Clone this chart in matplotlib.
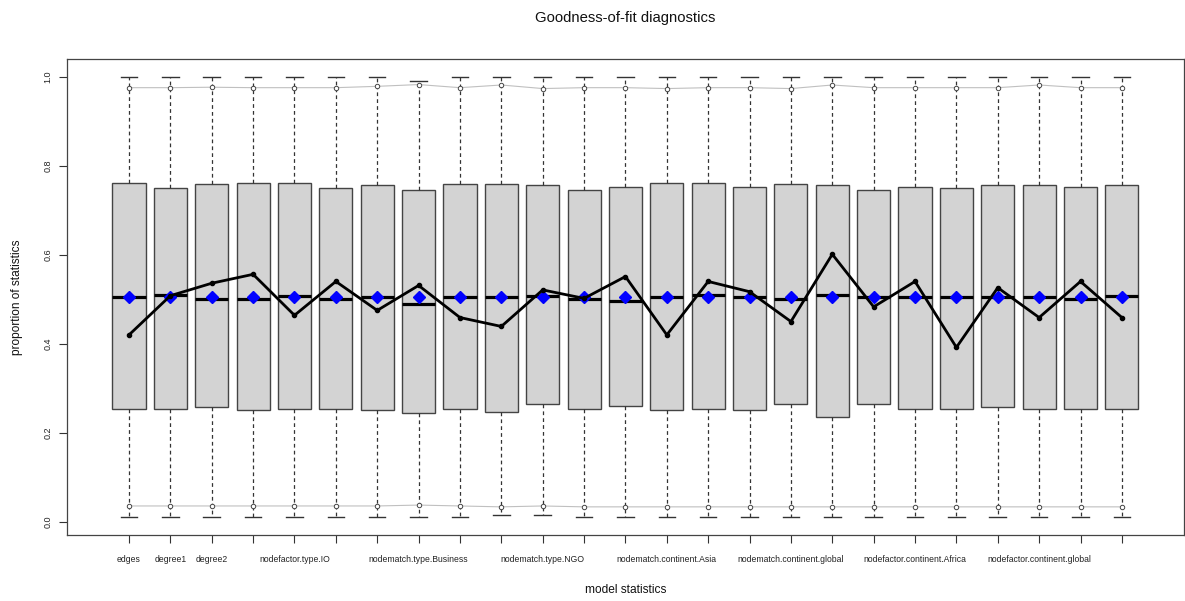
import matplotlib.pyplot as plt

plt.rcParams['font.family'] = ['Liberation Sans', 'DejaVu Sans']

# model statistics (only some labels are printed, the rest are hidden like in R)
tick_labels = ['edges', 'degree1', 'degree2', '', 'nodefactor.type.IO', '', '',
               'nodematch.type.Business', '', '', 'nodematch.type.NGO', '', '',
               'nodematch.continent.Asia', '', '', 'nodematch.continent.global', '', '',
               'nodefactor.continent.Africa', '', '', 'nodefactor.continent.global', '', '']

# boxplot summaries of simulated proportions
q1 = [0.254, 0.254, 0.259, 0.252, 0.254, 0.254, 0.252, 0.245, 0.254, 0.248,
      0.265, 0.254, 0.260, 0.252, 0.254, 0.252, 0.264, 0.235, 0.264, 0.254,
      0.254, 0.259, 0.254, 0.254, 0.254]
med = [0.505, 0.509, 0.500, 0.500, 0.508, 0.501, 0.506, 0.490, 0.505, 0.505,
       0.508, 0.500, 0.495, 0.506, 0.509, 0.506, 0.501, 0.510, 0.506, 0.505,
       0.504, 0.505, 0.504, 0.501, 0.508]
q3 = [0.762, 0.750, 0.758, 0.762, 0.762, 0.750, 0.757, 0.745, 0.758, 0.758,
      0.757, 0.745, 0.752, 0.762, 0.762, 0.752, 0.758, 0.757, 0.745, 0.752,
      0.750, 0.757, 0.757, 0.752, 0.757]
whis_lo = [0.0105, 0.0105, 0.0105, 0.0105, 0.0105, 0.0105, 0.0105, 0.0105, 0.0105, 0.015,
           0.015, 0.0105, 0.0105, 0.0105, 0.0105, 0.0105, 0.0105, 0.0105, 0.0105, 0.0105,
           0.0105, 0.0105, 0.0105, 0.0105, 0.0105]
whis_hi = [1.0, 1.0, 1.0, 1.0, 1.0, 1.0, 1.0, 0.991, 1.0, 1.0,
           1.0, 1.0, 1.0, 1.0, 1.0, 1.0, 1.0, 1.0, 1.0, 1.0,
           1.0, 1.0, 1.0, 1.0, 1.0]

# simulated means (blue diamonds)
means = [0.505, 0.505, 0.504, 0.504, 0.505, 0.504, 0.504, 0.504, 0.504, 0.504,
         0.504, 0.504, 0.504, 0.504, 0.504, 0.504, 0.504, 0.504, 0.504, 0.504,
         0.504, 0.504, 0.504, 0.504, 0.504]

# observed statistics (black line)
observed = [0.420, 0.508, 0.536, 0.556, 0.464, 0.540, 0.475, 0.531, 0.459, 0.439,
            0.521, 0.502, 0.551, 0.420, 0.540, 0.517, 0.450, 0.601, 0.483, 0.540,
            0.392, 0.526, 0.459, 0.540, 0.459]

# upper / lower bounds (grey lines)
upper = [0.975, 0.975, 0.976, 0.975, 0.975, 0.975, 0.978, 0.982, 0.975, 0.981,
         0.973, 0.975, 0.975, 0.973, 0.975, 0.975, 0.973, 0.981, 0.975, 0.975,
         0.975, 0.975, 0.981, 0.975, 0.975]
lower = [0.036, 0.036, 0.036, 0.036, 0.036, 0.036, 0.036, 0.038, 0.036, 0.034,
         0.036, 0.034, 0.034, 0.034, 0.034, 0.034, 0.034, 0.034, 0.034, 0.034,
         0.034, 0.034, 0.034, 0.034, 0.034]

pos = list(range(1, len(q1) + 1))

fig = plt.figure(figsize=(11.85, 6.01), dpi=100)
ax = fig.add_axes([0.0565, 0.1098, 0.9426, 0.7928])

stats = []
for i in range(len(q1)):
    stats.append({'q1': q1[i], 'med': med[i], 'q3': q3[i],
                  'whislo': whis_lo[i], 'whishi': whis_hi[i], 'fliers': []})

ax.bxp(stats, positions=pos, widths=0.8, capwidths=0.4, patch_artist=True,
       boxprops=dict(facecolor='#d3d3d3', edgecolor='#444444', linewidth=1),
       medianprops=dict(color='black', linewidth=2.3),
       whiskerprops=dict(color='#333333', linewidth=0.9, linestyle=(0, (3, 2.5))),
       capprops=dict(color='#333333', linewidth=1))

# grey bound lines with open circles
ax.plot(pos, upper, color='#c0c0c0', linewidth=0.8, zorder=3)
ax.plot(pos, lower, color='#c0c0c0', linewidth=0.8, zorder=3)
ax.plot(pos, upper, 'o', markersize=3.2, markerfacecolor='white',
        markeredgecolor='#444444', markeredgewidth=0.7, zorder=4)
ax.plot(pos, lower, 'o', markersize=3.2, markerfacecolor='white',
        markeredgecolor='#444444', markeredgewidth=0.7, zorder=4)

ax.plot(pos, means, 'D', color='#0000ff', markersize=6.3, zorder=5)
ax.plot(pos, observed, '-o', color='black', linewidth=2, markersize=3, zorder=6)

ax.set_xlim(-0.5, 26.5)
ax.set_ylim(-0.0292, 1.0404)
ax.set_xticks(pos)
ax.set_xticklabels(tick_labels, fontsize=6.2)
ax.set_yticks([0.0, 0.2, 0.4, 0.6, 0.8, 1.0])
ax.set_yticklabels(['0.0', '0.2', '0.4', '0.6', '0.8', '1.0'], fontsize=6.5,
                   rotation=90, va='center')
ax.tick_params(axis='x', direction='out', length=5.5, width=0.8, pad=9,
               color='#333333', labelcolor='#222222')
ax.tick_params(axis='y', direction='out', length=5.5, width=0.8, pad=5,
               color='#333333', labelcolor='#222222')
for s in ax.spines.values():
    s.set_color('#444444')
    s.set_linewidth(0.9)

fig.text(0.5278, 0.970, 'Goodness-of-fit diagnostics', ha='center', va='center',
         fontsize=10.7, color='#111111')
fig.text(0.5278, 0.018, 'model statistics', ha='center', va='center',
         fontsize=8.6, color='#111111')
fig.text(0.0145, 0.506, 'proportion of statistics', ha='center', va='center',
         rotation=90, fontsize=8.6, color='#111111')

fig.savefig('out.png', dpi=100)
